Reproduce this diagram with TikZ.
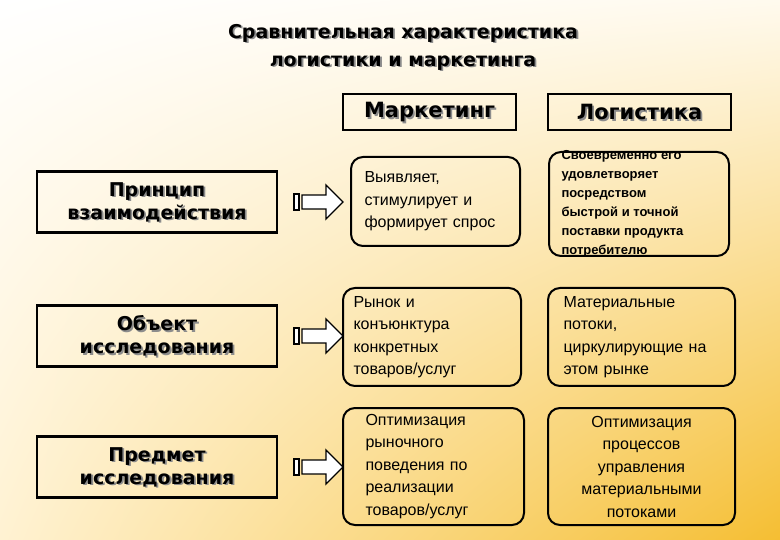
\documentclass[tikz,border=0pt]{standalone}
\usepackage{fontspec}
\setmainfont{Liberation Sans}
\newfontfamily\heavy{DejaVu Sans}
\usetikzlibrary{shadings}
\definecolor{bgur}{RGB}{255,250,238}
\definecolor{bgll}{RGB}{255,242,210}
\definecolor{bglr}{RGB}{245,190,50}
\begin{document}
\begin{tikzpicture}[x=1pt,y=-1pt,
  hb/.style={draw,line width=2.4pt,inner sep=0pt},
  rb/.style={draw,line width=2pt,rounded corners=12pt,inner sep=0pt},
  bt/.style={font=\heavy\bfseries\fontsize{19}{23}\selectfont,align=center},
  st/.style={font=\fontsize{16}{22.5}\selectfont,align=left,text width=160pt},
  sh/.style={text=black!45}]
\useasboundingbox (0,0) rectangle (780,540);
\shade[upper left=white,upper right=bgur,lower left=bgll,lower right=bglr] (0,0) rectangle (780,540);
% title
\foreach \c/\o in {black!45/1.8,black/0}{
 \node[bt,text=\c,font=\heavy\bfseries\fontsize{19}{28}\selectfont] (t\o) at (403+\o,47+\o) {Сравнительная характеристика\\логистики и маркетинга};}
% headers
\node[hb,minimum width=173pt,minimum height=36pt] (hm) at (429.5,112) {};
\node[hb,minimum width=183pt,minimum height=36pt] (hl) at (639.5,112) {};
\foreach \n/\t in {hm/Маркетинг,hl/Логистика}{
 \node[bt,sh,font=\heavy\bfseries\fontsize{21}{24}\selectfont] at ([shift={(1.8,1.8)}]\n.center) {\t};
 \node[bt,font=\heavy\bfseries\fontsize{21}{24}\selectfont] at (\n.center) {\t};}
% left boxes
\foreach \n/\y/\t in {l1/202/{Принцип\\взаимодействия},l2/336/{Объект\\исследования},l3/467/{Предмет\\исследования}}{
 \node[hb,minimum width=240pt,minimum height=61pt] (\n) at (157,\y) {};
 \node[bt,sh] at ([shift={(1.8,1.8)}]\n.center) {\t};
 \node[bt] at (\n.center) {\t};
 \draw[line width=1.3pt,fill=white] (294,\y-8) rectangle (299,\y+8);
 \draw[line width=1.3pt,fill=white] (302,\y-7) -- (326,\y-7) -- (326,\y-17) -- (343,\y) -- (326,\y+17) -- (326,\y+7) -- (302,\y+7) -- cycle;}
% right boxes
\node[rb,minimum width=169pt,minimum height=89pt] (m1) at (435.5,201.5) {};
\node[st,anchor=west] at ([xshift=11pt]m1.west) {Выявляет,\\стимулирует и\\формирует спрос};
\node[rb,minimum width=180pt,minimum height=104pt] (g1) at (639,204) {};
\node[anchor=west,align=left,font=\bfseries\fontsize{13}{19}\selectfont] at ([xshift=10pt]g1.west) {Своевременно его\\удовлетворяет\\посредством\\быстрой и точной\\поставки продукта\\потребителю};
\node[rb,minimum width=178pt,minimum height=98pt] (m2) at (432,337) {};
\node[st,anchor=west] at ([xshift=8pt]m2.west) {Рынок и\\конъюнктура\\конкретных\\товаров/услуг};
\node[rb,minimum width=187pt,minimum height=98pt] (g2) at (641.5,337) {};
\node[st,anchor=west,text width=178pt] at ([xshift=13pt]g2.west) {Материальные\\потоки,\\циркулирующие на\\этом рынке};
\node[rb,minimum width=181pt,minimum height=117pt] (m3) at (433.5,466.5) {};
\node[st,anchor=west] at ([xshift=20pt]m3.west) {Оптимизация\\рыночного\\поведения по\\реализации\\товаров/услуг};
\node[rb,minimum width=187pt,minimum height=117pt] (g3) at (641.5,466.5) {};
\node[st,align=center,text width=180pt] at (g3.center) {Оптимизация\\процессов\\управления\\материальными\\потоками};
\end{tikzpicture}
\end{document}
